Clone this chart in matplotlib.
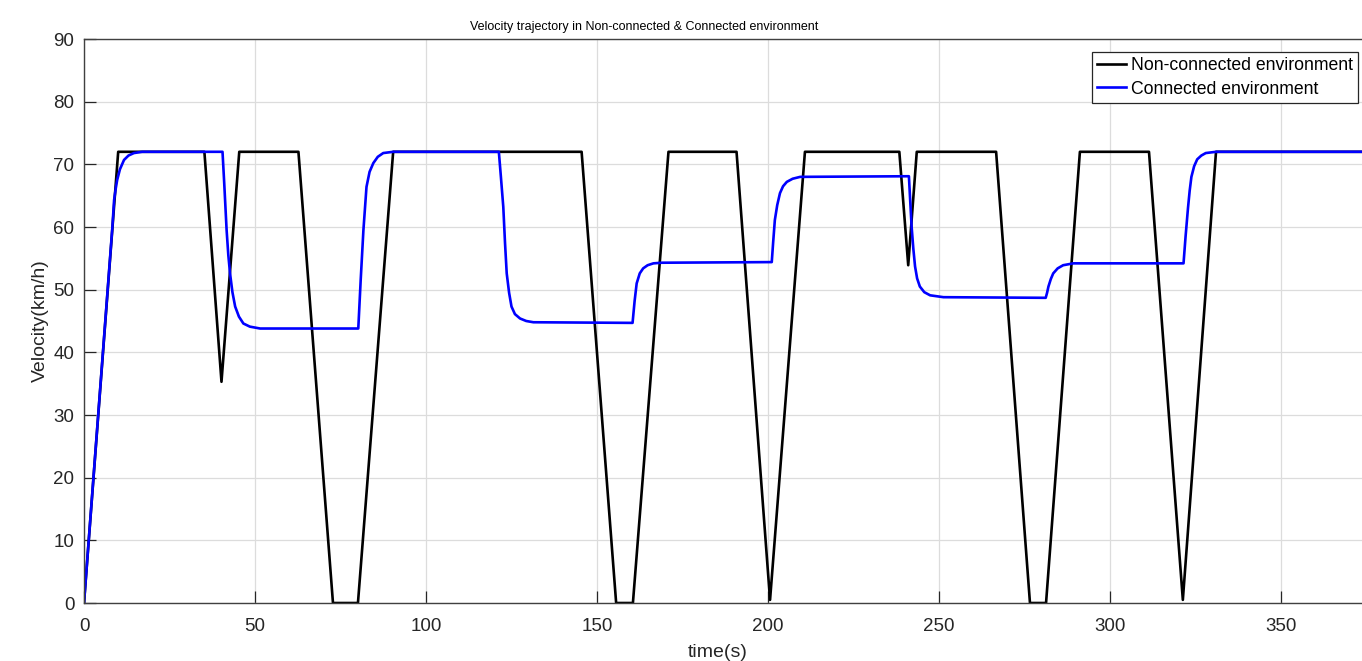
import matplotlib
matplotlib.use("Agg")
import matplotlib.pyplot as plt

# Non-connected environment (black)
t_nc = [0, 10, 35.2, 40.2, 45.4, 62.7, 72.8, 80.1, 90.4, 145.5, 155.6, 160.5,
        170.9, 190.8, 200.6, 210.8, 238.4, 241.0, 243.5, 266.7, 276.6, 281.3,
        291.2, 311.4, 321.3, 331.0, 380]
v_nc = [0, 72, 72, 35.3, 72, 72, 0, 0, 72, 72, 0, 0,
        72, 72, 0.5, 72, 72, 53.9, 72, 72, 0, 0,
        72, 72, 0.5, 72, 72]

# Connected environment (blue), points read along each transition
t_c = [0, 8.3, 8.8, 9.3, 9.7, 10.5, 11.7, 13.0, 14.6, 17.0, 19.5,
       40.5, 41.0, 41.7, 42.2, 42.7, 43.4, 44.2, 45.3, 46.6, 48.5, 51.5,
       80.2, 80.9, 81.7, 82.6, 83.5, 84.6, 85.9, 87.5, 90.4,
       121.3, 121.9, 122.6, 123.1, 123.6, 124.3, 125.0, 126.0, 127.5, 129.3, 131.4,
       160.4, 161.0, 161.6, 162.5, 163.5, 164.8, 166.5, 169.0,
       201.1, 201.5, 202.0, 202.7, 203.5, 204.4, 205.5, 207.2, 209.4,
       241.2, 241.6, 242.0, 242.5, 243.0, 243.6, 244.4, 245.7, 247.4, 251.3,
       281.2, 281.6, 282.0, 282.7, 283.4, 284.7, 286.3, 289.3,
       321.5, 322.1, 322.8, 323.3, 323.8, 324.6, 325.5, 326.7, 328.0, 331.0,
       380]
v_c = [0, 60.0, 64.3, 66.2, 67.5, 69.2, 70.7, 71.4, 71.8, 72.0, 72.0,
       72.0, 67.0, 59.5, 55.5, 52.6, 49.6, 47.3, 45.7, 44.6, 44.1, 43.8,
       43.8, 51.5, 59.5, 66.4, 68.8, 70.2, 71.2, 71.8, 72.0,
       72.0, 68.0, 63.2, 57.5, 52.6, 49.5, 47.3, 46.1, 45.4, 45.0, 44.8,
       44.7, 48.2, 51.0, 52.6, 53.4, 53.9, 54.2, 54.3,
       54.4, 57.5, 61.1, 63.5, 65.4, 66.5, 67.2, 67.7, 68.0,
       68.1, 64.0, 60.0, 56.5, 53.7, 51.8, 50.5, 49.6, 49.1, 48.8,
       48.7, 49.5, 50.5, 51.7, 52.6, 53.4, 53.9, 54.2,
       54.2, 58.5, 63.0, 65.8, 68.0, 69.7, 70.8, 71.4, 71.8, 72.0,
       72.0]

x_ticks = [0, 50, 100, 150, 200, 250, 300, 350]
y_ticks = [0, 10, 20, 30, 40, 50, 60, 70, 80, 90]

plt.rcParams["font.family"] = ["Liberation Sans", "DejaVu Sans"]

fig = plt.figure(figsize=(13.62, 6.61), dpi=100)
ax = fig.add_axes([84 / 1362, 58 / 661, 1299.6 / 1362, 564 / 661])

ax.plot(t_nc, v_nc, color="black", lw=1.9, label="Non-connected environment")
ax.plot(t_c, v_c, color="blue", lw=1.9, label="Connected environment")

ax.set_xlim(0, 380)
ax.set_ylim(0, 90)
ax.set_xticks(x_ticks)
ax.set_yticks(y_ticks)
ax.grid(True, color="#dcdcdc", lw=0.9)
ax.set_axisbelow(True)
ax.tick_params(direction="in", length=8.5, width=0.9, colors="#262626",
               labelsize=13.5, pad=7)
ax.tick_params(axis="x", pad=11)
for sp in ax.spines.values():
    sp.set_color("#404040")
    sp.set_linewidth(1.0)

# labels
fig.text(718 / 1362, 4 / 661, "time(s)", fontsize=14, color="#262626",
         ha="center", va="baseline")
fig.text(40 / 1362, (661 - 321) / 661, "Velocity(km/h)", fontsize=14,
         color="#262626", ha="center", va="center", rotation=90)
fig.text(644 / 1362, (661 - 30) / 661, "Velocity trajectory in Non-connected & Connected environment",
         fontsize=9, color="black", ha="center", va="baseline")

leg = ax.legend(loc="upper right", bbox_to_anchor=(1358 / 1362, (661 - 52) / 661),
                bbox_transform=fig.transFigure, fontsize=12.7, frameon=True,
                fancybox=False, edgecolor="#262626", framealpha=1,
                handlelength=1.65, handletextpad=0.25, borderpad=0.3,
                labelspacing=0.36, borderaxespad=0)
leg.get_frame().set_linewidth(0.9)

fig.savefig("out.png", dpi=100)
